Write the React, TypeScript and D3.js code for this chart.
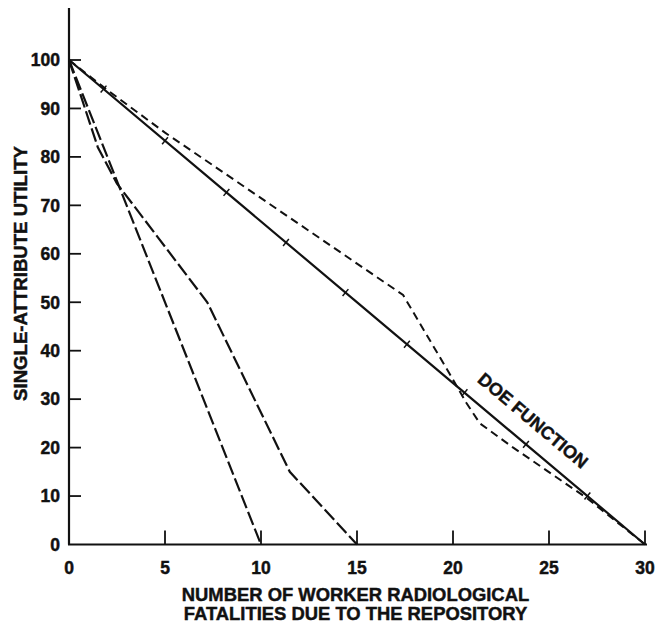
import React from "react";
import * as d3 from "d3";

const xTicks = [0, 5, 10, 15, 20, 25, 30];
const yTicks = [0, 10, 20, 30, 40, 50, 60, 70, 80, 90, 100];

// DOE function (solid with cross markers)
const doeX = [0, 30];
const doeY = [100, 0];
const doeMarkerX = [1.8, 5.0, 8.2, 11.3, 14.4, 17.6, 20.6, 23.8, 27.0];

// Short-dashed curve
const shortX = [0, 2, 5, 17.4, 19.8, 20.7, 21.4, 23.1, 27, 30];
const shortY = [100, 93.8, 85, 51.5, 35.4, 29.2, 25, 20.1, 9.5, 0];

// Long-dashed curve ending at 10
const longAX = [0, 10];
const longAY = [100, 0];

// Long-dashed curve ending at 15
const longBX = [0, 1.5, 2.5, 7.2, 11.5, 15];
const longBY = [100, 82, 74.5, 50, 15, 0];

const FONT = "'Liberation Sans', Arial, Helvetica, sans-serif";

export default function App() {
  const x = d3.scaleLinear().domain([0, 30]).range([69, 645]);
  const y = d3.scaleLinear().domain([0, 100]).range([544.5, 60]);

  const line = d3
    .line<[number, number]>()
    .x((d) => x(d[0]))
    .y((d) => y(d[1]));

  const zip = (xs: number[], ys: number[]) =>
    xs.map((v, i) => [v, ys[i]] as [number, number]);

  const dx = x(doeX[1]) - x(doeX[0]);
  const dy = y(doeY[1]) - y(doeY[0]);
  const len = Math.sqrt(dx * dx + dy * dy);
  const ux = dx / len;
  const uy = dy / len;
  // normal pointing up-right (away from origin)
  const nx = uy;
  const ny = -ux;
  const angle = (Math.atan2(dy, dx) * 180) / Math.PI;
  const doeAt = (v: number) => 100 - (100 / 30) * v;

  const labelX = 23.4;
  const lx = x(labelX) + nx * 23;
  const ly = y(doeAt(labelX)) + ny * 23;

  const txt = { fill: "#111", stroke: "#111", strokeWidth: 0.45, fontWeight: "bold" as const };

  return (
    <svg
      width={657}
      height={628}
      style={{ position: "absolute", left: 0, top: 0, background: "#fff" }}
      fontFamily={FONT}
    >
      <rect x={0} y={0} width={657} height={628} fill="#fff" />
      {/* axes */}
      <line x1={x(0)} x2={x(0)} y1={8} y2={y(0)} stroke="#111" strokeWidth={2.2} />
      <line x1={x(0) - 1} x2={x(30) + 2} y1={y(0)} y2={y(0)} stroke="#111" strokeWidth={2.2} />
      {yTicks.filter((t) => t > 0).map((t) => (
        <line key={"yt" + t} x1={x(0)} x2={x(0) + 12} y1={y(t)} y2={y(t)} stroke="#111" strokeWidth={1.8} />
      ))}
      {xTicks.filter((t) => t > 0).map((t) => (
        <line key={"xt" + t} x1={x(t)} x2={x(t)} y1={y(0)} y2={y(0) - 14} stroke="#111" strokeWidth={1.8} />
      ))}
      {yTicks.map((t) => (
        <text key={"yl" + t} x={60} y={y(t)} dy="0.36em" textAnchor="end" fontSize={17.5} {...txt}>
          {t}
        </text>
      ))}
      {xTicks.map((t) => (
        <text key={"xl" + t} x={x(t)} y={574} textAnchor="middle" fontSize={17.5} {...txt}>
          {t}
        </text>
      ))}
      {/* axis titles */}
      <text x={355.5} y={601} textAnchor="middle" fontSize={18.4} {...txt}>
        NUMBER OF WORKER RADIOLOGICAL
      </text>
      <text x={355.5} y={620} textAnchor="middle" fontSize={18.4} {...txt}>
        FATALITIES DUE TO THE REPOSITORY
      </text>
      <text
        transform="translate(20,273.5) rotate(-90)"
        dy="0.36em"
        textAnchor="middle"
        fontSize={18.6}
        {...txt}
      >
        SINGLE-ATTRIBUTE UTILITY
      </text>

      {/* curves */}
      <path d={line(zip(longAX, longAY)) || ""} fill="none" stroke="#111" strokeWidth={2.2} strokeDasharray="14 4" />
      <path d={line(zip(longBX, longBY)) || ""} fill="none" stroke="#111" strokeWidth={2.2} strokeDasharray="14 4" />
      <path d={line(zip(shortX, shortY)) || ""} fill="none" stroke="#111" strokeWidth={2} strokeDasharray="8 5" />
      <path d={line(zip(doeX, doeY)) || ""} fill="none" stroke="#111" strokeWidth={2.2} />
      {doeMarkerX.map((m) => {
        const cx = x(m);
        const cy = y(doeAt(m));
        return (
          <line
            key={"m" + m}
            x1={cx - nx * 4.5}
            y1={cy - ny * 4.5}
            x2={cx + nx * 4.5}
            y2={cy + ny * 4.5}
            stroke="#111"
            strokeWidth={1.5}
          />
        );
      })}
      <text
        transform={`translate(${lx},${ly}) rotate(${angle})`}
        dy="0.36em"
        textAnchor="middle"
        fontSize={18}
        {...txt}
      >
        DOE FUNCTION
      </text>
    </svg>
  );
}
